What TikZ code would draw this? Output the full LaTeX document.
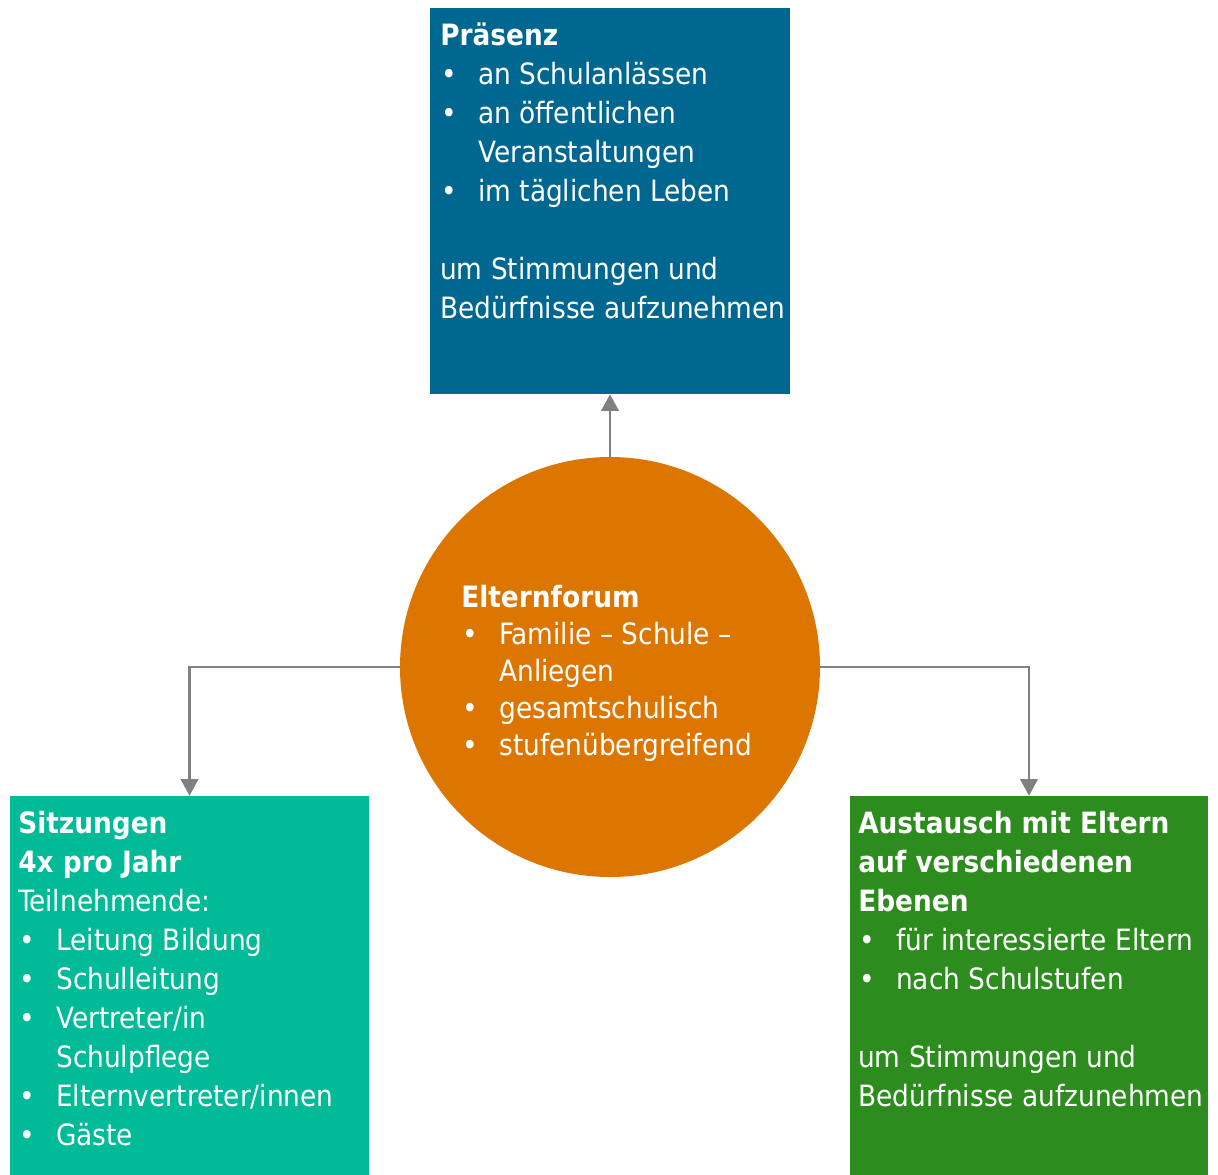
\documentclass[tikz,border=0pt]{standalone}
\usepackage{fontspec}
\setmainfont{DejaVu Sans Condensed}
\usetikzlibrary{arrows.meta}
\definecolor{cblue}{RGB}{0,103,145}
\definecolor{corange}{RGB}{221,118,0}
\definecolor{cteal}{RGB}{0,186,152}
\definecolor{cgreen}{RGB}{45,140,30}
\definecolor{cgray}{RGB}{128,128,128}
\newcommand\bitem[1]{\hbox{\makebox[28.5pt][l]{\hspace{1pt}\textbullet}#1}}
\newcommand\citem[1]{\hbox{\hspace{28.5pt}#1}}
\newcommand\pline[1]{\hbox{#1}}
\tikzset{
  boxshape/.style={rectangle, inner sep=0pt, draw=none},
  txt/.style={anchor=base west, inner sep=0pt, text=white},
  arr/.style={draw=cgray, line width=2.2pt, -{Triangle[width=13pt,length=12.5pt]}}
}
\begin{document}
\begin{tikzpicture}[x=0.75pt,y=-0.75pt]
\useasboundingbox (0,0) rectangle (1218,1175);
\node[boxshape, fill=cblue, minimum width=270pt, minimum height=289.5pt] (top) at (610,201) {};
\node[boxshape, fill=cteal, minimum width=269.25pt, minimum height=291pt] (left) at (189.5,990) {};
\node[boxshape, fill=cgreen, minimum width=268.5pt, minimum height=291pt] (right) at (1029,990) {};
\node[circle, fill=corange, inner sep=0pt, minimum size=315pt] (c) at (610,667) {};
\draw[arr] (c.north) -- (top.south);
\draw[arr] (c.west) -| (left.north);
\draw[arr] (c.east) -| (right.north);
\node[txt, font=\fontsize{22}{29.25}\selectfont] (t1) at (440,45) {\lineskiplimit=-100pt\vtop{%
\pline{\bfseries Präsenz}
\bitem{an Schulanlässen}
\bitem{an öffentlichen}
\citem{Veranstaltungen}
\bitem{im täglichen Leben}
\pline{}
\pline{um Stimmungen und}
\pline{Bedürfnisse aufzunehmen}}};
\node[txt, font=\fontsize{22}{27.75}\selectfont] (t2) at (461,607) {\lineskiplimit=-100pt\vtop{%
\pline{\bfseries Elternforum}
\bitem{Familie – Schule –}
\citem{Anliegen}
\bitem{gesamtschulisch}
\bitem{stufenübergreifend}}};
\node[txt, font=\fontsize{22}{29.25}\selectfont] (t3) at (18,833) {\lineskiplimit=-100pt\vtop{%
\pline{\bfseries Sitzungen}
\pline{\bfseries 4x pro Jahr}
\pline{Teilnehmende:}
\bitem{Leitung Bildung}
\bitem{Schulleitung}
\bitem{Vertreter/in}
\citem{Schulpflege}
\bitem{Elternvertreter/innen}
\bitem{Gäste}}};
\node[txt, font=\fontsize{22}{29.25}\selectfont] (t4) at (858,833) {\lineskiplimit=-100pt\vtop{%
\pline{\bfseries Austausch mit Eltern}
\pline{\bfseries auf verschiedenen}
\pline{\bfseries Ebenen}
\bitem{für interessierte Eltern}
\bitem{nach Schulstufen}
\pline{}
\pline{um Stimmungen und}
\pline{Bedürfnisse aufzunehmen}}};
\end{tikzpicture}
\end{document}
